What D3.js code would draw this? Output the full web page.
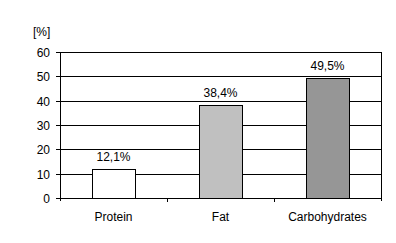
<!DOCTYPE html>
<html><head><meta charset="utf-8">
<script src="https://cdn.jsdelivr.net/npm/d3@7"></script>
<style>body{margin:0;background:#fff}svg{display:block}text{font-family:"Liberation Sans",Arial,sans-serif;font-size:12px;fill:#000}</style>
</head><body><svg id="c" width="396" height="243"></svg>
<script>
const categories = ["Protein", "Fat", "Carbohydrates"];
const values = [12.1, 38.4, 49.5];
const valueLabels = ["12,1%", "38,4%", "49,5%"];
const barColors = ["#ffffff", "#c0c0c0", "#969696"];
const yTicks = [0, 10, 20, 30, 40, 50, 60];
const unitLabel = "[%]";

(function () {
const svg = d3.select("#c");
const pl = 60, pr = 381, pt = 52, pb = 198;
const x = d3.scaleBand().domain(categories).range([pl, pr]).padding(0);
const y = d3.scaleLinear().domain([0, 60]).range([pb, pt]);
const py = v => Math.round(y(v)) + 0.5;

svg.append("g").selectAll("line").data(yTicks).join("line")
  .attr("x1", pl - 4).attr("x2", pr + 0.5)
  .attr("y1", py).attr("y2", py)
  .attr("stroke", "#000").attr("stroke-width", 1);

svg.append("g").selectAll("text").data(yTicks).join("text")
  .attr("x", 50).attr("y", d => py(d) + 4)
  .attr("text-anchor", "end").text(d => d);

svg.append("text").attr("x", 33).attr("y", 36).text(unitLabel);

const bw = Math.round(x.bandwidth() * 0.4);
svg.append("g").selectAll("rect").data(values).join("rect")
  .attr("x", (d, i) => Math.round(x(categories[i]) + (x.bandwidth() - bw) / 2) + 0.5)
  .attr("width", bw)
  .attr("y", d => py(d))
  .attr("height", d => py(0) - py(d))
  .attr("fill", (d, i) => barColors[i])
  .attr("stroke", "#000").attr("stroke-width", 1);

svg.append("g").selectAll("text").data(values).join("text")
  .attr("x", (d, i) => x(categories[i]) + x.bandwidth() / 2)
  .attr("y", d => py(d) - 9)
  .attr("text-anchor", "middle").text((d, i) => valueLabels[i]);

svg.append("line").attr("x1", pl + 0.5).attr("x2", pl + 0.5)
  .attr("y1", pt).attr("y2", pb + 3).attr("stroke", "#000");
svg.append("line").attr("x1", pr + 0.5).attr("x2", pr + 0.5)
  .attr("y1", pt).attr("y2", pb + 3).attr("stroke", "#000");
const bounds = categories.map(c => x(c)).slice(1);
svg.append("g").selectAll("line").data(bounds).join("line")
  .attr("x1", d => Math.round(d) + 0.5).attr("x2", d => Math.round(d) + 0.5)
  .attr("y1", pb).attr("y2", pb + 4).attr("stroke", "#000");

svg.append("g").selectAll("text").data(categories).join("text")
  .attr("x", d => x(d) + x.bandwidth() / 2)
  .attr("y", 221)
  .attr("text-anchor", "middle").text(d => d);
})();
</script></body></html>
